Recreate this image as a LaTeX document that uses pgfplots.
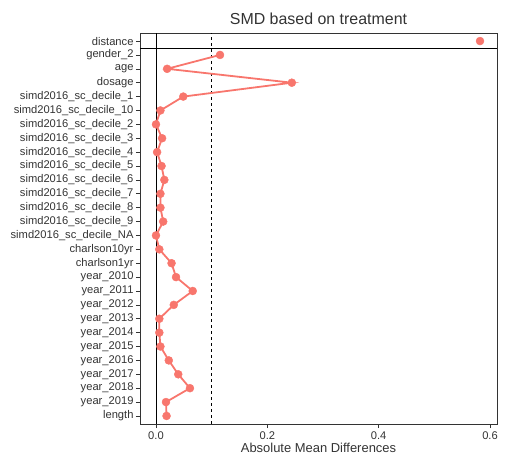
\documentclass[border=0pt]{standalone}
\usepackage{fontspec}
\setmainfont{Liberation Sans}
\usepackage{pgfplots}
\pgfplotsset{compat=1.18}
\definecolor{smd}{HTML}{F8766D}
\definecolor{ax}{HTML}{333333}
\begin{document}
\begin{tikzpicture}[x=1bp,y=1bp]
\begin{axis}[
  at={(0,0)}, anchor=south west,
  scale only axis,
  width=357bp, height=391bp,
  xmin=-0.0287, xmax=0.6125,
  ymin=-0.58, ymax=27.58,
  axis line style={ax, line width=0.9bp},
  xtick={0,0.2,0.4,0.6},
  xticklabels={0.0,0.2,0.4,0.6},
  ytick={0,...,27},
  yticklabels={length,year\_2019,year\_2018,year\_2017,year\_2016,year\_2015,year\_2014,year\_2013,year\_2012,year\_2011,year\_2010,charlson1yr,charlson10yr,simd2016\_sc\_decile\_NA,simd2016\_sc\_decile\_9,simd2016\_sc\_decile\_8,simd2016\_sc\_decile\_7,simd2016\_sc\_decile\_6,simd2016\_sc\_decile\_5,simd2016\_sc\_decile\_4,simd2016\_sc\_decile\_3,simd2016\_sc\_decile\_2,simd2016\_sc\_decile\_10,simd2016\_sc\_decile\_1,dosage,age,gender\_2,distance},
  tick align=outside,
  xtick pos=bottom, ytick pos=left,
  major tick length=4bp,
  tick style={ax, line width=0.6bp},
  /pgf/number format/assume math mode=true,
  ticklabel style={font=\fontsize{11.2}{13}\selectfont, text=ax},
  yticklabel style={xshift=1bp},
  xlabel={Absolute Mean Differences},
  xlabel style={font=\fontsize{13}{15}\selectfont, text=ax, yshift=3bp},
  title={SMD based on treatment},
  title style={font=\fontsize{16}{18}\selectfont, text=ax, yshift=-1bp},
  clip=false,
]
\draw[black, line width=0.8bp] (axis cs:0,-0.58) -- (axis cs:0,27.58);
\draw[black, line width=0.8bp, dashed, dash pattern=on 3bp off 3bp] (axis cs:0.1,-0.58) -- (axis cs:0.1,27.58);
\draw[black, line width=0.8bp] (axis cs:-0.0287,26.5) -- (axis cs:0.6125,26.5);
\addplot[smd, line width=1.8bp, mark=*, mark size=4bp, mark options={solid, fill=smd, draw=smd, line width=0.4bp}] coordinates {
(0.019,0) (0.018,1) (0.061,2) (0.040,3) (0.023,4) (0.008,5) (0.006,6) (0.006,7)
(0.032,8) (0.066,9) (0.036,10) (0.028,11) (0.006,12) (0.000,13) (0.013,14)
(0.008,15) (0.008,16) (0.015,17) (0.010,18) (0.002,19) (0.011,20) (0.000,21)
(0.008,22) (0.049,23) (0.244,24) (0.020,25) (0.115,26)
};
\addplot[smd, only marks, mark=*, mark size=4bp, mark options={solid, fill=smd, draw=smd, line width=0.4bp}] coordinates {(0.582,27)};
\end{axis}
\path (current axis.south west) ++(-140bp,-40bp) coordinate (bbA);
\path (current axis.north east) ++(12bp,33bp) coordinate (bbB);
\path (bbA) rectangle (bbB);
\end{tikzpicture}
\end{document}
